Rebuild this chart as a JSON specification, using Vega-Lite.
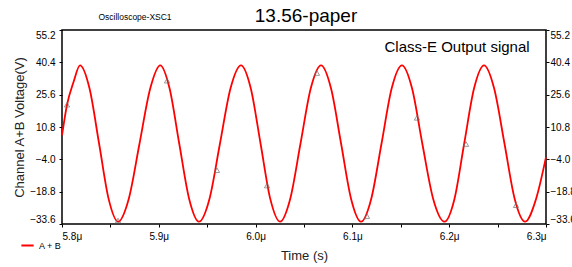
{
  "$schema": "https://vega.github.io/schema/vega-lite/v6.json",
  "width": 484,
  "height": 194,
  "autosize": {"type": "none"},
  "padding": {"left": 62, "top": 30, "right": 26, "bottom": 43},
  "background": "white",
  "config": {
    "view": {"stroke": "#000", "strokeWidth": 1.5},
    "font": "Liberation Sans",
    "axis": {"grid": false, "domain": false, "tickColor": "#000", "tickSize": 3, "labelFontSize": 10, "labelColor": "#000", "titleFontSize": 13, "titleFontWeight": "normal", "titleColor": "#222", "labelFont": "Liberation Sans", "titleFont": "Liberation Sans"}
  },
  "datasets": {
    "wave": [
      {"t": 5.8, "v": 7, "series": "A + B"},
      {"t": 5.8052, "v": 21, "series": "A + B"},
      {"t": 5.812, "v": 31.5, "series": "A + B"},
      {"t": 5.8186, "v": 39, "series": "A + B"},
      {"t": 5.8284, "v": 28.5, "series": "A + B"},
      {"t": 5.8383, "v": 3.25, "series": "A + B"},
      {"t": 5.8481, "v": -22, "series": "A + B"},
      {"t": 5.8579, "v": -32.5, "series": "A + B"},
      {"t": 5.869, "v": -22, "series": "A + B"},
      {"t": 5.8801, "v": 3.25, "series": "A + B"},
      {"t": 5.8912, "v": 28.5, "series": "A + B"},
      {"t": 5.9015, "v": 39, "series": "A + B"},
      {"t": 5.9111, "v": 28.5, "series": "A + B"},
      {"t": 5.9211, "v": 3.25, "series": "A + B"},
      {"t": 5.9313, "v": -22, "series": "A + B"},
      {"t": 5.9415, "v": -32.5, "series": "A + B"},
      {"t": 5.9524, "v": -22, "series": "A + B"},
      {"t": 5.9632, "v": 3.25, "series": "A + B"},
      {"t": 5.9741, "v": 28.5, "series": "A + B"},
      {"t": 5.9849, "v": 39, "series": "A + B"},
      {"t": 5.995, "v": 28.5, "series": "A + B"},
      {"t": 6.0051, "v": 3.25, "series": "A + B"},
      {"t": 6.0151, "v": -22, "series": "A + B"},
      {"t": 6.0252, "v": -32.5, "series": "A + B"},
      {"t": 6.0358, "v": -22, "series": "A + B"},
      {"t": 6.0464, "v": 3.25, "series": "A + B"},
      {"t": 6.057, "v": 28.5, "series": "A + B"},
      {"t": 6.0676, "v": 39, "series": "A + B"},
      {"t": 6.0779, "v": 28.5, "series": "A + B"},
      {"t": 6.0883, "v": 3.25, "series": "A + B"},
      {"t": 6.0986, "v": -22, "series": "A + B"},
      {"t": 6.1089, "v": -32.5, "series": "A + B"},
      {"t": 6.1195, "v": -22, "series": "A + B"},
      {"t": 6.1301, "v": 3.25, "series": "A + B"},
      {"t": 6.1406, "v": 28.5, "series": "A + B"},
      {"t": 6.1512, "v": 39, "series": "A + B"},
      {"t": 6.1616, "v": 28.5, "series": "A + B"},
      {"t": 6.1722, "v": 3.25, "series": "A + B"},
      {"t": 6.1834, "v": -22, "series": "A + B"},
      {"t": 6.1952, "v": -32.5, "series": "A + B"},
      {"t": 6.2055, "v": -22, "series": "A + B"},
      {"t": 6.2155, "v": 3.25, "series": "A + B"},
      {"t": 6.2257, "v": 28.5, "series": "A + B"},
      {"t": 6.236, "v": 39, "series": "A + B"},
      {"t": 6.2464, "v": 28.5, "series": "A + B"},
      {"t": 6.2571, "v": 3.25, "series": "A + B"},
      {"t": 6.2676, "v": -22, "series": "A + B"},
      {"t": 6.2784, "v": -32.5, "series": "A + B"},
      {"t": 6.2898, "v": -22, "series": "A + B"},
      {"t": 6.3, "v": -3, "series": "A + B"}
    ],
    "markers": [
      {"t": 5.8052, "v": 21},
      {"t": 5.8579, "v": -32},
      {"t": 5.9085, "v": 32},
      {"t": 5.9601, "v": -9},
      {"t": 6.0118, "v": -16},
      {"t": 6.0634, "v": 35.5},
      {"t": 6.1151, "v": -30},
      {"t": 6.1667, "v": 15},
      {"t": 6.2174, "v": 3},
      {"t": 6.269, "v": -25}
    ],
    "note": [{"t": 6.2081, "v": 47.4, "label": "Class-E Output signal"}],
    "head": [{"t": 6.0521, "v": 61.4, "label": "13.56-paper"}],
    "tab": [{"t": 5.8754, "v": 61.1, "label": "Oscilloscope-XSC1"}]
  },
  "layer": [
    {
      "data": {"name": "wave"},
      "mark": {"type": "line", "interpolate": "monotone", "strokeWidth": 1.8},
      "encoding": {
        "x": {
          "field": "t", "type": "quantitative",
          "scale": {"domain": [5.8, 6.3], "nice": false, "zero": false},
          "axis": {
            "values": [5.8, 5.85, 5.9, 5.95, 6.0, 6.05, 6.1, 6.15, 6.2, 6.25, 6.3],
            "labelExpr": "round(datum.value*100) % 10 == 0 ? format(datum.value, '.1f') + 'μ' : ''",
            "labelFlush": true,
            "labelPadding": 4,
            "title": "Time (s)",
            "titlePadding": 8
          }
        },
        "y": {
          "field": "v", "type": "quantitative",
          "scale": {"domain": [-33.6, 55.2], "nice": false, "zero": false},
          "axis": {
            "orient": "left",
            "values": [-33.6, -18.8, -4, 10.8, 25.6, 40.4, 55.2],
            "format": ".1f",
            "labelFlush": true,
            "labelPadding": 4,
            "title": "Channel A+B Voltage(V)",
            "titlePadding": 3
          }
        },
        "color": {
          "field": "series", "type": "nominal",
          "scale": {"range": ["#ff0000"]},
          "legend": {"orient": "none", "legendX": -42, "legendY": 208, "title": null, "symbolType": "stroke", "symbolStrokeWidth": 2, "symbolSize": 150, "labelFontSize": 9, "labelColor": "#000"}
        }
      }
    },
    {
      "data": {"name": "markers"},
      "mark": {"type": "point", "shape": "triangle-up", "filled": false, "color": "#707070", "size": 28, "strokeWidth": 1},
      "encoding": {
        "x": {"field": "t", "type": "quantitative"},
        "y": {
          "field": "v", "type": "quantitative",
          "axis": {
            "orient": "right",
            "values": [-33.6, -18.8, -4, 10.8, 25.6, 40.4, 55.2],
            "format": ".1f",
            "labelFlush": true,
            "labelPadding": 1,
            "title": null
          }
        }
      }
    },
    {
      "data": {"name": "note"},
      "mark": {"type": "text", "fontSize": 15, "color": "#000", "align": "center", "baseline": "middle"},
      "encoding": {
        "x": {"field": "t", "type": "quantitative"},
        "y": {"field": "v", "type": "quantitative", "axis": null},
        "text": {"field": "label"}
      }
    },
    {
      "data": {"name": "head"},
      "mark": {"type": "text", "fontSize": 19, "color": "#000", "align": "center", "baseline": "middle"},
      "encoding": {
        "x": {"field": "t", "type": "quantitative"},
        "y": {"field": "v", "type": "quantitative", "axis": null},
        "text": {"field": "label"}
      }
    },
    {
      "data": {"name": "tab"},
      "mark": {"type": "text", "fontSize": 8.5, "color": "#000", "align": "center", "baseline": "middle"},
      "encoding": {
        "x": {"field": "t", "type": "quantitative"},
        "y": {"field": "v", "type": "quantitative", "axis": null},
        "text": {"field": "label"}
      }
    }
  ],
  "resolve": {"axis": {"y": "independent"}}
}
